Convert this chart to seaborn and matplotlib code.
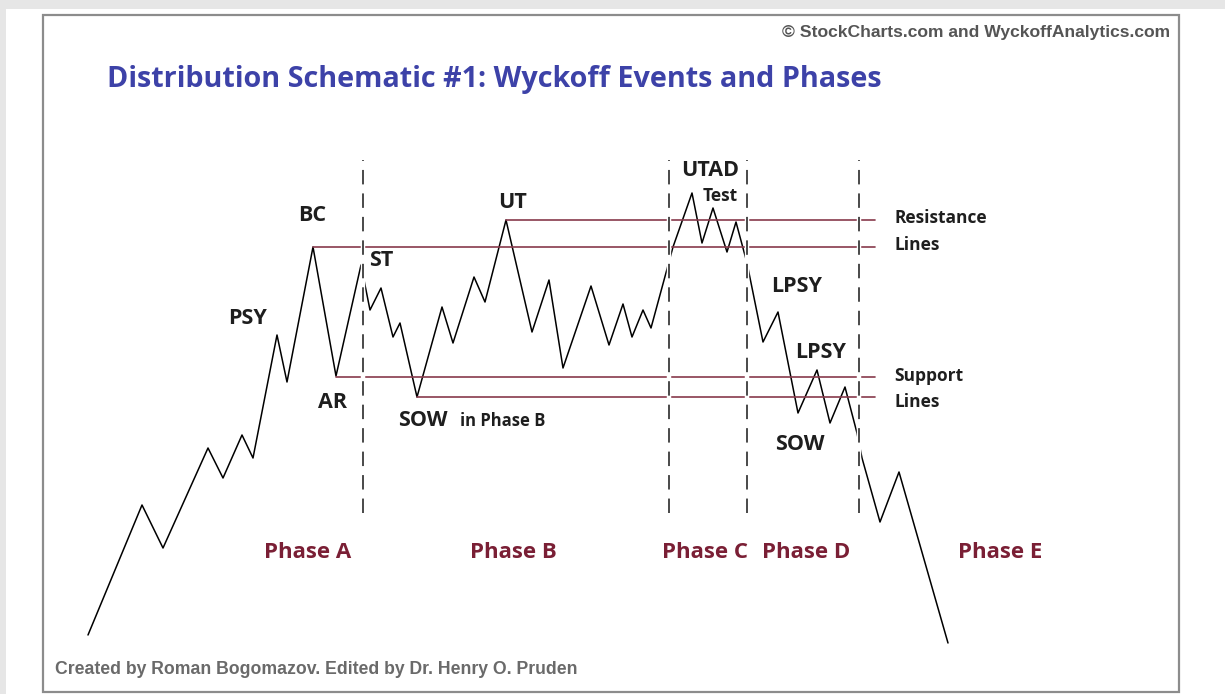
import matplotlib
matplotlib.use("Agg")
import matplotlib.pyplot as plt
import seaborn as sns
import pandas as pd
from matplotlib.patches import Rectangle

sns.set_style("white")
plt.rcParams['font.family'] = ['Open Sans', 'DejaVu Sans']

# price path of the schematic (time, price)
time = [88, 142, 163, 208, 223, 242, 253, 277, 287, 313, 336, 361, 370, 381, 393, 400, 417,
        442, 453, 474, 485, 506, 532, 549, 563, 591, 609, 623, 632, 643, 651, 673, 692, 702,
        713, 727, 736, 747, 763, 778, 798, 817, 830, 845, 857, 862, 880, 899, 948]
price = [59, 189, 146, 246, 216, 259, 236, 359, 312, 447, 318, 429, 384, 406, 357, 371, 297,
         387, 351, 417, 392, 474, 362, 414, 326, 408, 349, 390, 357, 384, 366, 447, 501, 451,
         486, 442, 472, 431, 352, 382, 281, 324, 271, 307, 261, 236, 172, 222, 51]

# resistance / support levels: price and start time
level_price = [474, 447, 317, 297]
level_start = [506, 313, 336, 417]
level_end = 875

# phase boundaries
phase_bounds = [363, 669, 747, 859]
bound_top, bound_bottom = 534, 181

phase_names = ['Phase A', 'Phase B', 'Phase C', 'Phase D', 'Phase E']
phase_x = [308, 513, 705, 806, 1000]

# event labels: text, time, price
events = ['PSY', 'BC', 'AR', 'ST', 'UT', 'UTAD', 'LPSY', 'LPSY', 'SOW']
event_x = [248, 312, 333, 381, 512, 710, 797, 821, 800]
event_y = [376, 479, 292, 434, 492, 524, 408, 342, 250]

df = pd.DataFrame({'time': time, 'price': price})

fig = plt.figure(figsize=(12.25, 6.94), dpi=100)
ax = fig.add_axes([0, 0, 1, 1])
ax.set_xlim(0, 1225)
ax.set_ylim(0, 694)
ax.axis('off')

# outer gray bands and panel border
ax.add_patch(Rectangle((0, 685), 1225, 9, color='#e6e6e6', lw=0, zorder=0))
ax.add_patch(Rectangle((0, 0), 6, 685, color='#e6e6e6', lw=0, zorder=0))
ax.add_patch(Rectangle((43, 2), 1136, 677, fill=False, edgecolor='#8c8c8c', lw=1.6, zorder=1))

sns.lineplot(data=df, x='time', y='price', sort=False, estimator=None,
             color='black', linewidth=1.1, ax=ax, zorder=2)

for p, s in zip(level_price, level_start):
    ax.plot([s, level_end], [p, p], color='#873a4c', lw=1.2, zorder=2)

# white gaps behind the dashed phase lines
ax.vlines(phase_bounds, bound_bottom, bound_top, color='white', lw=3.2, zorder=3)
ax.vlines(phase_bounds, bound_bottom, bound_top, color='#3a3a3a', lw=1.3,
          linestyles=(0, (8, 5)), zorder=4)

ink = '#1e1e1e'
lab = dict(fontsize=15.5, fontweight='bold', color=ink, ha='center', va='center', zorder=5)
for t, x, y in zip(events, event_x, event_y):
    ax.text(x, y, t, **lab)
ax.text(720, 498, 'Test', fontsize=12.5, fontweight='bold', color=ink,
        ha='center', va='center', zorder=5)
ax.text(398, 274, 'SOW', fontsize=15.5, fontweight='bold', color=ink,
        ha='left', va='center', zorder=5)
ax.text(460, 273, 'in Phase B', fontsize=12, fontweight='bold', color=ink,
        ha='left', va='center', zorder=5)

side = dict(fontsize=12.5, fontweight='bold', color=ink, ha='left', va='center')
ax.text(894, 476, 'Resistance', **side)
ax.text(894, 449, 'Lines', **side)
ax.text(894, 318, 'Support', **side)
ax.text(894, 292, 'Lines', **side)

for name, x in zip(phase_names, phase_x):
    ax.text(x, 141, name, fontsize=16, fontweight='bold', color='#7a1f35',
            ha='center', va='center')

ax.text(107, 615, 'Distribution Schematic #1: Wyckoff Events and Phases', fontsize=20.7,
        fontweight='bold', color='#3d42a8', ha='left', va='center')
ax.text(1170, 662, '\u00a9 StockCharts.com and WyckoffAnalytics.com', fontsize=12.6,
        fontweight='bold', color='#555555', ha='right', va='center',
        family=['Liberation Sans', 'DejaVu Sans'])
ax.text(55, 24, 'Created by Roman Bogomazov. Edited by Dr. Henry O. Pruden', fontsize=12.7,
        fontweight='bold', color='#6a6a6a', ha='left', va='center',
        family=['Liberation Sans', 'DejaVu Sans'])

fig.savefig('out.png', dpi=100, facecolor='white')
